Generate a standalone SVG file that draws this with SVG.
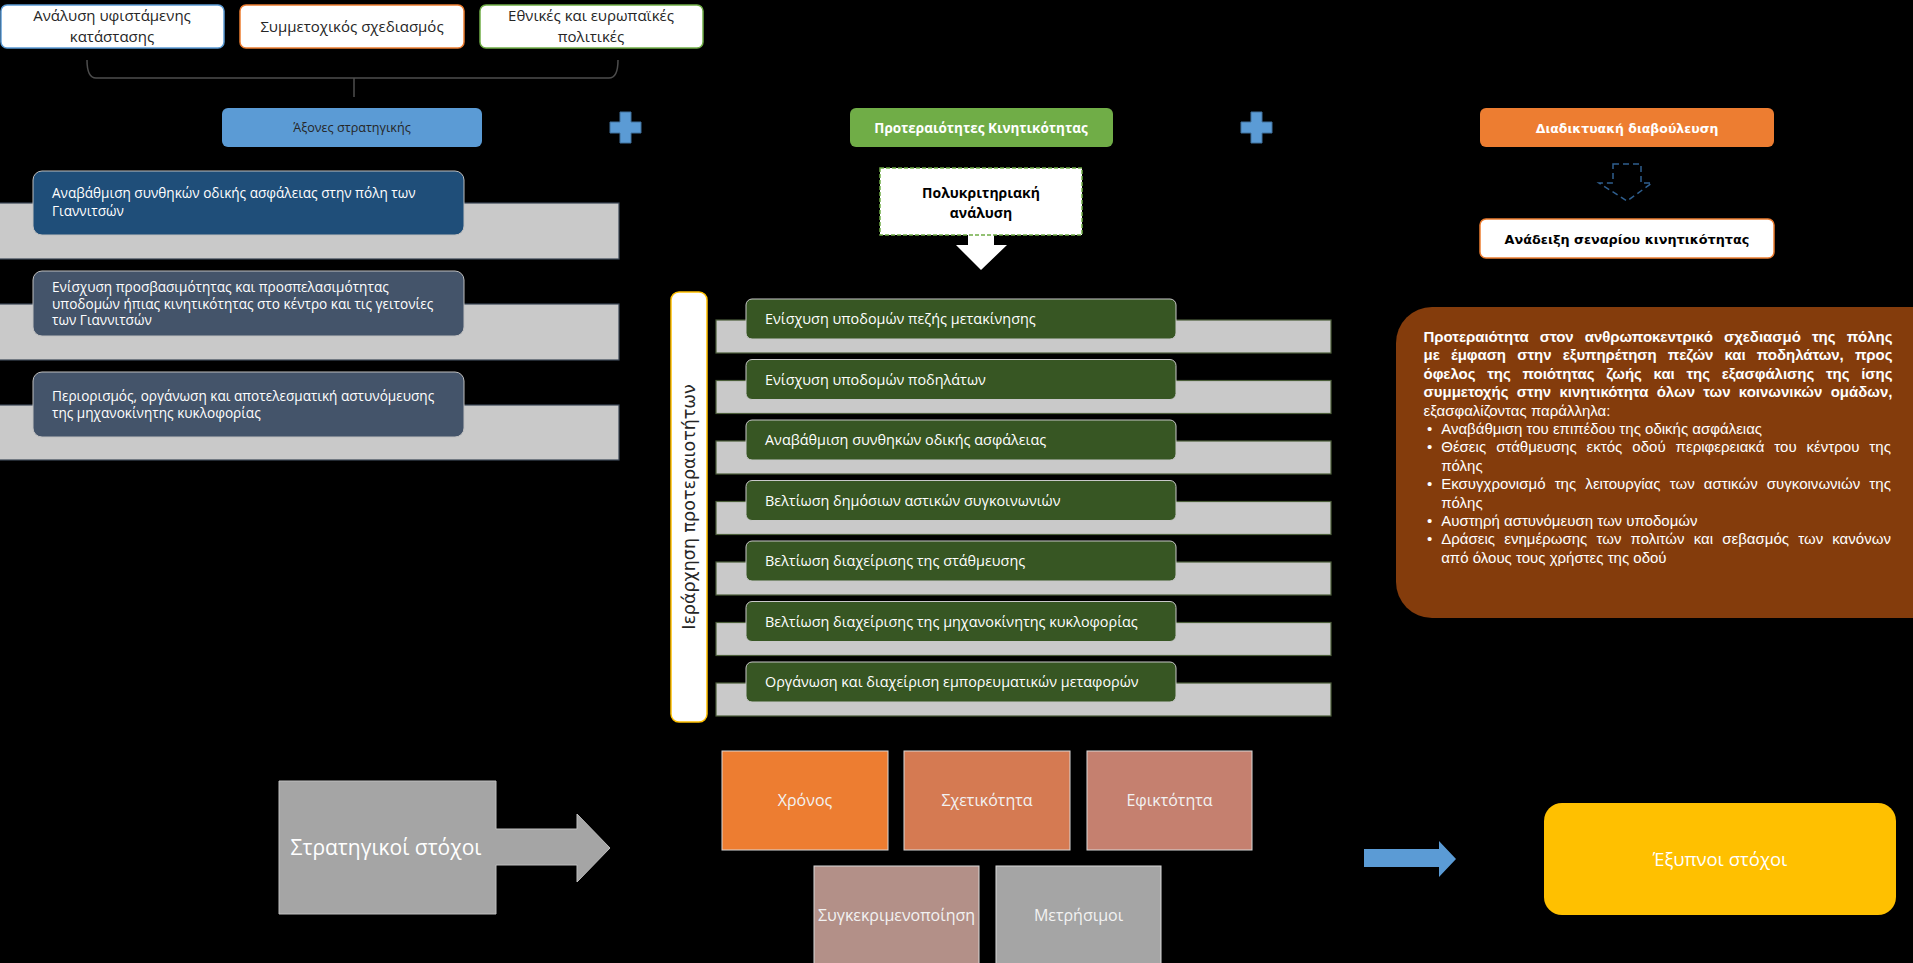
<svg xmlns="http://www.w3.org/2000/svg" width="1913" height="963" viewBox="0 0 1913 963">
<style>
.os{font-family:"Open Sans","Noto Sans",sans-serif}
.ar{font-family:"Liberation Sans",Arial,sans-serif}
.dv{font-family:"DejaVu Sans",sans-serif}
.topbox{fill:#fff;stroke-width:1.5}
.toptxt{font-size:15px;fill:#262626;text-anchor:middle}
.axbox{stroke:#bfbfbf;stroke-width:1}
.axtxt{font-size:13.6px;fill:#fff}
.bar-l{fill:#c9c9c9;stroke:#3b4656;stroke-width:1.2}
.bar-m{fill:#c9c9c9;stroke:#4b5e3a;stroke-width:1.2}
.grow{fill:#375623;stroke:#c8c8c8;stroke-width:1}
.gtxt{font-size:14.4px;fill:#fff}
.tile{stroke:#d9d9d9;stroke-width:1}
.ttxt{font-size:16px;fill:#f2f2f2;text-anchor:middle}
.btxt{font-size:15px;fill:#fff}
.bb{font-weight:bold}
</style>
<rect x="0" y="0" width="1913" height="963" fill="#000"/>

<!-- connectors -->
<g id="connectors">
  <path d="M87,60 Q87,78 96,78 L609,78 Q618,78 618,60 M354,78 L354,97" fill="none" stroke="#4d4d4d" stroke-width="1.5"/>
  <polygon id="arrow-polykrit" points="968,235 994,235 994,245 1007,245 981,270 956,245 968,245" fill="#fff"/>
  <polygon id="arrow-dashed" points="1613,164 1641,164 1641,183 1652,183 1627,201 1599,183 1613,183" fill="none" stroke="#2f5f8f" stroke-width="1.5" stroke-dasharray="6,4"/>
  <polygon id="arrow-blue" points="1364,849 1439,849 1439,841 1456,859 1439,877 1439,867 1364,867" fill="#5b9bd5"/>
  <path id="plus1" d="M620,112 h11 v10 h10 v11 h-10 v10 h-11 v-10 h-10 v-11 h10 z" fill="#5b9bd5" stroke="#41719c" stroke-width="1"/>
  <path id="plus2" d="M1251,112 h11 v10 h10 v11 h-10 v10 h-11 v-10 h-10 v-11 h10 z" fill="#5b9bd5" stroke="#41719c" stroke-width="1"/>
</g>

<!-- top boxes -->
<g id="n-analysi">
  <rect class="topbox" x="1" y="5" width="223" height="43" rx="6" stroke="#5b9bd5"/>
  <text class="os toptxt" x="112" y="21">Ανάλυση υφιστάμενης</text>
  <text class="os toptxt" x="112" y="42">κατάστασης</text>
</g>
<g id="n-symmetoxikos">
  <rect class="topbox" x="240" y="5" width="224" height="43" rx="6" stroke="#ed7d31"/>
  <text class="os toptxt" x="352" y="32">Συμμετοχικός σχεδιασμός</text>
</g>
<g id="n-politikes">
  <rect class="topbox" x="480" y="5" width="223" height="43" rx="6" stroke="#70ad47"/>
  <text class="os toptxt" x="591" y="21">Εθνικές και ευρωπαϊκές</text>
  <text class="os toptxt" x="591" y="42">πολιτικές</text>
</g>

<!-- headers -->
<g id="n-axones">
  <rect x="222" y="108" width="260" height="39" rx="6" fill="#5b9bd5"/>
  <text class="os" x="352" y="132" font-size="12.6px" fill="#262626" text-anchor="middle">Άξονες στρατηγικής</text>
</g>
<g id="n-proteraiotites">
  <rect x="850" y="108" width="263" height="39" rx="6" fill="#70ad47"/>
  <text class="os" x="981" y="133" font-size="13.5px" font-weight="bold" fill="#fff" text-anchor="middle">Προτεραιότητες Κινητικότητας</text>
</g>
<g id="n-diavoulefsi">
  <rect x="1480" y="108" width="294" height="39" rx="6" fill="#ed7d31"/>
  <text class="dv" x="1627" y="133" font-size="12.5px" font-weight="bold" fill="#fff" text-anchor="middle">Διαδικτυακή διαβούλευση</text>
</g>
<g id="n-anadeixi">
  <rect x="1480" y="219" width="294" height="39" rx="6" fill="#fff" stroke="#ed7d31" stroke-width="1.5"/>
  <text class="dv" x="1627" y="244" font-size="12.8px" font-weight="bold" fill="#000" text-anchor="middle">Ανάδειξη σεναρίου κινητικότητας</text>
</g>
<g id="n-polykrit">
  <rect x="880" y="168" width="202" height="67" fill="#fff" stroke="#70ad47" stroke-width="1.5" stroke-dasharray="4,2"/>
  <text class="os" x="981" y="198" font-size="14px" font-weight="bold" fill="#000" text-anchor="middle">Πολυκριτηριακή</text>
  <text class="os" x="981" y="218" font-size="14px" font-weight="bold" fill="#000" text-anchor="middle">ανάλυση</text>
</g>

<!-- left axes -->
<g id="n-axis1">
  <rect class="bar-l" x="-2" y="203" width="621" height="56"/>
  <rect class="axbox" x="33" y="171" width="431" height="64" rx="9" fill="#1f4e79"/>
  <text class="os axtxt" x="52" y="198">Αναβάθμιση συνθηκών οδικής ασφάλειας στην πόλη των</text>
  <text class="os axtxt" x="52" y="216">Γιαννιτσών</text>
</g>
<g id="n-axis2">
  <rect class="bar-l" x="-2" y="304" width="621" height="56"/>
  <rect class="axbox" x="33" y="271" width="431" height="65" rx="9" fill="#44546a"/>
  <text class="os axtxt" x="52" y="292" font-size="12.4px">Ενίσχυση προσβασιμότητας και προσπελασιμότητας</text>
  <text class="os axtxt" x="52" y="308.5" font-size="12.4px">υποδομών ήπιας κινητικότητας στο κέντρο και τις γειτονίες</text>
  <text class="os axtxt" x="52" y="325" font-size="12.4px">των Γιαννιτσών</text>
</g>
<g id="n-axis3">
  <rect class="bar-l" x="-2" y="405" width="621" height="55"/>
  <rect class="axbox" x="33" y="372" width="431" height="65" rx="9" fill="#44546a"/>
  <text class="os axtxt" x="52" y="401">Περιορισμός, οργάνωση και αποτελεσματική αστυνόμευσης</text>
  <text class="os axtxt" x="52" y="418">της μηχανοκίνητης κυκλοφορίας</text>
</g>

<!-- priorities -->
<g id="n-ierarxisi">
  <rect x="671" y="292" width="36" height="430" rx="8" fill="#fff" stroke="#ffc000" stroke-width="1.5"/>
  <text class="dv" transform="translate(695,507) rotate(-90)" x="0" y="0" font-size="17.5px" fill="#262626" text-anchor="middle">Ιεράρχηση προτεραιοτήτων</text>
</g>
<g id="n-prio1">
  <rect class="bar-m" x="716" y="320" width="615" height="33"/>
  <rect class="grow" x="746" y="299" width="430" height="40" rx="6"/>
  <text class="os gtxt" x="765" y="324">Ενίσχυση υποδομών πεζής μετακίνησης</text>
</g>
<g id="n-prio2">
  <rect class="bar-m" x="716" y="380.5" width="615" height="33"/>
  <rect class="grow" x="746" y="359.5" width="430" height="40" rx="6"/>
  <text class="os gtxt" x="765" y="384.5">Ενίσχυση υποδομών ποδηλάτων</text>
</g>
<g id="n-prio3">
  <rect class="bar-m" x="716" y="441" width="615" height="33"/>
  <rect class="grow" x="746" y="420" width="430" height="40" rx="6"/>
  <text class="os gtxt" x="765" y="445">Αναβάθμιση συνθηκών οδικής ασφάλειας</text>
</g>
<g id="n-prio4">
  <rect class="bar-m" x="716" y="501.5" width="615" height="33"/>
  <rect class="grow" x="746" y="480.5" width="430" height="40" rx="6"/>
  <text class="os gtxt" x="765" y="505.5">Βελτίωση δημόσιων αστικών συγκοινωνιών</text>
</g>
<g id="n-prio5">
  <rect class="bar-m" x="716" y="562" width="615" height="33"/>
  <rect class="grow" x="746" y="541" width="430" height="40" rx="6"/>
  <text class="os gtxt" x="765" y="566">Βελτίωση διαχείρισης της στάθμευσης</text>
</g>
<g id="n-prio6">
  <rect class="bar-m" x="716" y="622.5" width="615" height="33"/>
  <rect class="grow" x="746" y="601.5" width="430" height="40" rx="6"/>
  <text class="os gtxt" x="765" y="626.5">Βελτίωση διαχείρισης της μηχανοκίνητης κυκλοφορίας</text>
</g>
<g id="n-prio7">
  <rect class="bar-m" x="716" y="683" width="615" height="33"/>
  <rect class="grow" x="746" y="662" width="430" height="40" rx="6"/>
  <text class="os gtxt" x="765" y="687">Οργάνωση και διαχείριση εμπορευματικών μεταφορών</text>
</g>

<!-- brown scenario box -->
<g id="n-senario">
  <rect x="1396" y="307" width="560" height="311" rx="36" fill="#843c0c"/>
  <text class="ar btxt bb" x="1423.5" y="342" word-spacing="7" textLength="469">Προτεραιότητα στον ανθρωποκεντρικό σχεδιασμό της πόλης</text>
  <text class="ar btxt bb" x="1423.5" y="360.4" word-spacing="7.1" textLength="469">με έμφαση στην εξυπηρέτηση πεζών και ποδηλάτων, προς</text>
  <text class="ar btxt bb" x="1423.5" y="378.8" word-spacing="7.5" textLength="469">όφελος της ποιότητας ζωής και της εξασφάλισης της ίσης</text>
  <text class="ar btxt bb" x="1423.5" y="397.2" word-spacing="4.1" textLength="469">συμμετοχής στην κινητικότητα όλων των κοινωνικών ομάδων,</text>
  <text class="ar btxt" x="1423.5" y="415.6">εξασφαλίζοντας παράλληλα:</text>
  <text class="ar btxt" x="1427" y="434">•</text>
  <text class="ar btxt" x="1441.2" y="434">Αναβάθμιση του επιπέδου της οδικής ασφάλειας</text>
  <text class="ar btxt" x="1427" y="452.4">•</text>
  <text class="ar btxt" x="1441.2" y="452.4" word-spacing="5.8" textLength="449.7">Θέσεις στάθμευσης εκτός οδού περιφερειακά του κέντρου της</text>
  <text class="ar btxt" x="1441.2" y="470.8">πόλης</text>
  <text class="ar btxt" x="1427" y="489.2">•</text>
  <text class="ar btxt" x="1441.2" y="489.2" word-spacing="5" textLength="449.7">Εκσυγχρονισμό της λειτουργίας των αστικών συγκοινωνιών της</text>
  <text class="ar btxt" x="1441.2" y="507.6">πόλης</text>
  <text class="ar btxt" x="1427" y="526">•</text>
  <text class="ar btxt" x="1441.2" y="526">Αυστηρή αστυνόμευση των υποδομών</text>
  <text class="ar btxt" x="1427" y="544.4">•</text>
  <text class="ar btxt" x="1441.2" y="544.4" word-spacing="4.9" textLength="449.7">Δράσεις ενημέρωσης των πολιτών και σεβασμός των κανόνων</text>
  <text class="ar btxt" x="1441.2" y="562.8">από όλους τους χρήστες της οδού</text>
</g>

<!-- bottom -->
<g id="n-stratigikoi">
  <polygon points="279,781 496,781 496,829 577,829 577,814 610,848 577,882 577,865 496,865 496,914 279,914" fill="#a5a5a5" stroke="#bfbfbf" stroke-width="1"/>
  <text class="os" x="386" y="855" font-size="21px" fill="#fff" text-anchor="middle">Στρατηγικοί στόχοι</text>
</g>
<g id="n-xronos">
  <rect class="tile" x="722" y="751" width="166" height="99" fill="#ed7d31"/>
  <text class="os ttxt" x="805" y="806">Χρόνος</text>
</g>
<g id="n-sxetikotita">
  <rect class="tile" x="904" y="751" width="166" height="99" fill="#d57a52"/>
  <text class="os ttxt" x="987" y="806">Σχετικότητα</text>
</g>
<g id="n-efiktotita">
  <rect class="tile" x="1087" y="751" width="165" height="99" fill="#c5806f"/>
  <text class="os ttxt" x="1169.5" y="806">Εφικτότητα</text>
</g>
<g id="n-sygkekrim">
  <rect class="tile" x="814" y="866" width="165" height="99" fill="#b39088"/>
  <text class="os ttxt" x="896.5" y="921" font-size="12px">Συγκεκριμενοποίηση</text>
</g>
<g id="n-metrisimoi">
  <rect class="tile" x="996" y="866" width="165" height="99" fill="#a5a5a5"/>
  <text class="os ttxt" x="1078.5" y="921">Μετρήσιμοι</text>
</g>
<g id="n-exypnoi">
  <rect x="1544" y="803" width="352" height="112" rx="18" fill="#ffc000"/>
  <text class="os" x="1720" y="866" font-size="18.5px" fill="#fff" text-anchor="middle">Έξυπνοι στόχοι</text>
</g>
</svg>
